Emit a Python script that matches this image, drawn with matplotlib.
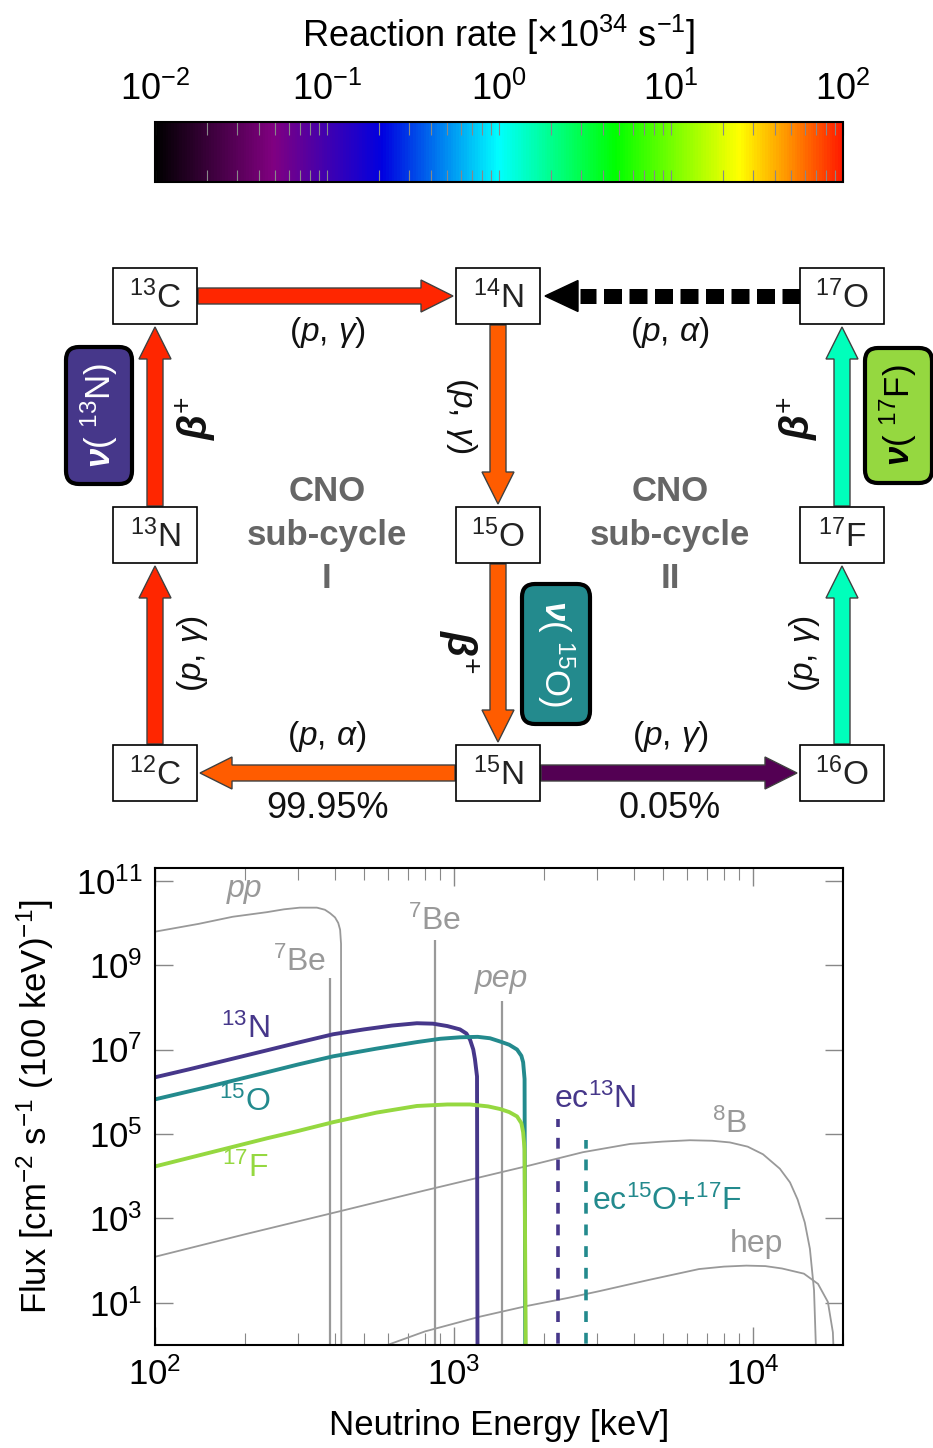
import numpy as np
import matplotlib
matplotlib.use("Agg")
import matplotlib.pyplot as plt
import matplotlib.cm as cm
from matplotlib.colors import LinearSegmentedColormap, LogNorm
from matplotlib.patches import Rectangle, FancyBboxPatch
from matplotlib.ticker import LogLocator, NullLocator, FixedLocator

plt.rcParams['font.family'] = ['Liberation Sans', 'DejaVu Sans']
plt.rcParams['mathtext.fontset'] = 'custom'
plt.rcParams['mathtext.rm'] = 'Liberation Sans'
plt.rcParams['mathtext.it'] = 'Liberation Sans:italic'
plt.rcParams['mathtext.bf'] = 'Liberation Sans:bold'
plt.rcParams['mathtext.bfit'] = 'Liberation Sans:italic:bold'

# ---- data ----------------------------------------------------------
# CNO reactions (from, to) and their rates [x1e34 /s]
edges = [('12C', '13N'), ('13N', '13C'), ('13C', '14N'),
         ('14N', '15O'), ('15O', '15N'), ('15N', '12C'),
         ('15N', '16O'), ('16O', '17F'), ('17F', '17O')]
edge_rates = [90, 90, 90, 65, 65, 65, 0.028, 1.5, 1.5]

# neutrino spectra, energy [keV] and flux [cm^-2 s^-1 (100 keV)^-1]
pp_E = [100, 140, 182, 237, 270, 305, 348, 370, 385, 400, 410, 416, 419, 420]
pp_F = [6.2e9, 9.5e9, 1.4e10, 1.8e10, 2.1e10, 2.3e10, 2.3e10, 2.05e10, 1.7e10,
        1.35e10, 1.0e10, 6.9e9, 3.2e9, 1e-1]
b8_E = [100, 200, 403, 800, 1794, 2700, 3880, 5000, 6150, 7300, 8370, 9600,
        10800, 12300, 13300, 14100, 14900, 15500, 16000, 16400]
b8_F = [123, 420, 1.4e3, 4.6e3, 1.8e4, 3.7e4, 5.8e4, 6.6e4, 7.1e4, 6.9e4, 6.3e4,
        5.0e4, 3.3e4, 1.5e4, 7.1e3, 2.8e3, 800, 190, 20, 1e-1]
hep_E = [500, 800, 1222, 1766, 2400, 3076, 4500, 6600, 8000, 9500, 11000,
         12500, 14800, 16500, 17800, 18500, 18800]
hep_F = [0.63, 2.1, 4.7, 8.5, 13, 19, 35, 63, 72, 76, 74, 65, 49, 28, 10.5, 2.0, 1e-1]
n13_E = [100, 130, 170, 237, 300, 394, 500, 620, 751, 851, 950, 1047, 1100,
         1132, 1160, 1175, 1194, 1199]
n13_F = [2.2e6, 3.4e6, 5.4e6, 9.6e6, 1.45e7, 2.3e7, 3.0e7, 3.7e7, 4.2e7, 4.1e7,
         3.6e7, 3.0e7, 2.4e7, 1.7e7, 1.0e7, 5.9e6, 2.3e6, 1e-1]
o15_E = [100, 150, 237, 300, 394, 550, 751, 900, 1047, 1200, 1320, 1426, 1530,
         1625, 1680, 1703, 1722, 1732]
o15_F = [6.6e5, 1.3e6, 2.9e6, 4.4e6, 6.9e6, 1.05e7, 1.5e7, 1.8e7, 1.95e7, 2.0e7,
         1.85e7, 1.55e7, 1.3e7, 1.0e7, 7.1e6, 5.0e6, 2.0e6, 1e-1]
f17_E = [100, 150, 237, 300, 394, 550, 751, 950, 1130, 1300, 1426, 1530, 1625,
         1680, 1703, 1722, 1740]
f17_F = [1.7e4, 3.5e4, 7.9e4, 1.17e5, 1.9e5, 3.2e5, 4.6e5, 5.0e5, 5.0e5, 4.5e5,
         3.9e5, 3.3e5, 2.6e5, 1.8e5, 1.1e5, 4.4e4, 1e-1]

# mono-energetic lines
line_E = [384, 862, 1442]          # 7Be, 7Be, pep
line_F = [5.0e8, 4.0e9, 1.45e8]
ec_E = [2220, 2754]                # ec 13N, ec 15O+17F
ec_F = [2.3e5, 7.1e4]

# ---- colours ------------------------------------------------------
rate_cmap = LinearSegmentedColormap.from_list('rate', [
    (0.0, '#000000'), (0.17, '#800080'), (0.33, '#0000e0'), (0.5, '#00ffff'),
    (0.67, '#00ff00'), (0.85, '#ffff00'), (1.0, '#ff1a00')])
rate_norm = LogNorm(1e-2, 1e2)
c13N = '#46378a'
c15O = '#238a8d'
c17F = '#95d840'
grey = '#999999'

fig = plt.figure(figsize=(9.33, 14.48), dpi=100)

# ---- diagram (pixel coordinates) ----------------------------------
dax = fig.add_axes([0, 0, 1, 1])
dax.set_xlim(0, 933)
dax.set_ylim(1448, 0)
dax.axis('off')

node_xy = {'13C': (155, 296), '14N': (498, 296), '17O': (842, 296),
           '13N': (155, 535), '15O': (498, 535), '17F': (842, 535),
           '12C': (155, 773), '15N': (498, 773), '16O': (842, 773)}
bw, bh = 84, 56

for name, (x, y) in node_xy.items():
    dax.add_patch(Rectangle((x - bw / 2, y - bh / 2), bw, bh, fc='white', ec='black', lw=1.2, zorder=3))
    dax.text(x, y + 2, r'$^{%s}$%s' % (name[:2], name[2:]), ha='center', va='center',
             fontsize=24, color='#222222', zorder=4)

for (a, b), r in zip(edges, edge_rates):
    xa, ya = node_xy[a]
    xb, yb = node_xy[b]
    if ya == yb:
        s = np.sign(xb - xa)
        x0, y0, dx, dy = xa + s * 43, ya, (xb - xa) - s * 88, 0
    else:
        s = np.sign(yb - ya)
        x0, y0, dx, dy = xa, ya + s * 29, 0, (yb - ya) - s * 60
    dax.arrow(x0, y0, dx, dy, width=16, head_width=32, head_length=32,
              length_includes_head=True, fc=rate_cmap(rate_norm(r)), ec='#404040', lw=1.0, zorder=2)

# 17O -> 14N (p,alpha), dotted black
dax.plot([800, 580], [296, 296], color='black', lw=10.8, dashes=(1.2, 0.5),
         dash_capstyle='butt', zorder=2)
dax.arrow(578, 296, -33, 0, width=0.01, head_width=31, head_length=33,
          length_includes_head=True, fc='black', ec='black', zorder=2)

lab = dict(ha='center', va='center', fontsize=24, color='#111111')
beta = dict(ha='center', va='center', fontsize=29, color='#111111')
dax.text(327, 332, r'$(p,\,\gamma)$', **lab)
dax.text(670, 332, r'$(p,\,\alpha)$', **lab)
dax.text(462, 415, r'$(p,\,\gamma)$', rotation=-90, **lab)
dax.text(196, 418, r'$\mathbfit{\beta}^{+}$', rotation=90, **beta)
dax.text(798, 418, r'$\mathbfit{\beta}^{+}$', rotation=90, **beta)
dax.text(458, 652, r'$\mathbfit{\beta}^{+}$', rotation=-90, **beta)
dax.text(192, 654, r'$(p,\,\gamma)$', rotation=90, **lab)
dax.text(804, 654, r'$(p,\,\gamma)$', rotation=90, **lab)
dax.text(327, 736, r'$(p,\,\alpha)$', **lab)
dax.text(670, 736, r'$(p,\,\gamma)$', **lab)
dax.text(327, 808, '99.95%', ha='center', va='center', fontsize=26, color='#111111')
dax.text(670, 808, '0.05%', ha='center', va='center', fontsize=26, color='#111111')

for cx, num in [(327, 'I'), (670, 'II')]:
    dax.text(cx, 535, 'CNO\nsub-cycle\n' + num, ha='center', va='center', fontsize=25,
             fontweight='bold', color='#666666', linespacing=1.4)

badges = [((66, 347, 66, 137), c13N, 'white', 90, '13N'),
          ((865, 348, 67, 135), c17F, 'black', 90, '17F'),
          ((522, 584, 68, 140), c15O, 'white', -90, '15O')]
for (x0, y0, w, h), fc, tc, rot, iso in badges:
    dax.add_patch(FancyBboxPatch((x0, y0), w, h, boxstyle='round,pad=0,rounding_size=13',
                                 fc=fc, ec='black', lw=3, zorder=3))
    dax.text(x0 + w / 2, y0 + h / 2, r'$\mathbfit{\nu}$( $^{%s}$%s)' % (iso[:2], iso[2:]),
             rotation=rot, ha='center', va='center', fontsize=25, color=tc, zorder=4)

# ---- colour bar ---------------------------------------------------
cax = fig.add_axes([155 / 933, 1 - 182 / 1448, 688 / 933, 60 / 1448])
sm = cm.ScalarMappable(norm=rate_norm, cmap=rate_cmap)
cbar = fig.colorbar(sm, cax=cax, orientation='horizontal')
cbar.minorticks_on()
cax.tick_params(axis='x', which='both', direction='in', top=True, bottom=True,
                labeltop=True, labelbottom=False, color='#888888', length=9, width=0.8,
                labelsize=26, pad=10)
cbar.outline.set_linewidth(1.5)
fig.text(499 / 933, 1 - 35 / 1448, r'Reaction rate [$\times$10$^{34}$ s$^{-1}$]',
         ha='center', va='center', fontsize=26)

# ---- flux spectra ---------------------------------------------------
ax = fig.add_axes([155 / 933, 1 - 1345 / 1448, 688 / 933, 477 / 1448])
ax.set_xscale('log')
ax.set_yscale('log')

ax.plot(pp_E, pp_F, color=grey, lw=1.3)
ax.plot(b8_E, b8_F, color=grey, lw=1.3)
ax.plot(hep_E, hep_F, color=grey, lw=1.3)
ax.vlines(line_E, 0.1, line_F, colors=grey, lw=1.6)
ax.plot(n13_E, n13_F, color=c13N, lw=2.8)
ax.plot(o15_E, o15_F, color=c15O, lw=2.8)
ax.plot(f17_E, f17_F, color=c17F, lw=2.8)
ax.vlines(ec_E, 0.1, ec_F, colors=[c13N, c15O], lw=2.6, linestyles=(0, (3, 3)))

ax.set_xlim(100, 2e4)
ax.set_ylim(1, 2e11)

t = dict(ha='center', va='center', fontsize=23)
ax.text(200, 6.2e10, 'pp', style='italic', color=grey, **t)
ax.text(305, 1.15e9, r'$^{7}$Be', color=grey, **t)
ax.text(863, 1.1e10, r'$^{7}$Be', color=grey, **t)
ax.text(1445, 4.6e8, 'pep', style='italic', color=grey, **t)
ax.text(200, 3.0e7, r'$^{13}$N', color=c13N, **t)
ax.text(200, 5.6e5, r'$^{15}$O', color=c15O, **t)
ax.text(200, 1.5e4, r'$^{17}$F', color=c17F, **t)
ax.text(2960, 6.6e5, r'ec$^{13}$N', color=c13N, **t)
ax.text(5150, 2.5e3, r'ec$^{15}$O$+^{17}$F', color=c15O, **t)
ax.text(8380, 1.7e5, r'$^{8}$B', color=grey, **t)
ax.text(10240, 245, 'hep', color=grey, **t)

ax.yaxis.set_major_locator(FixedLocator([1e1, 1e3, 1e5, 1e7, 1e9, 1e11]))
ax.yaxis.set_minor_locator(NullLocator())
ax.xaxis.set_major_locator(LogLocator(base=10))
ax.xaxis.set_minor_locator(LogLocator(base=10, subs=np.arange(2, 10)))
ax.tick_params(which='both', direction='in', top=True, right=True, color='#888888', labelsize=25)
ax.tick_params(which='major', length=13, width=1.0, pad=9)
ax.tick_params(which='minor', length=8.5, width=0.8)
for sp in ax.spines.values():
    sp.set_linewidth(1.5)
ax.set_xlabel('Neutrino Energy [keV]', fontsize=25, labelpad=12)
ax.set_ylabel(r'Flux [cm$^{-2}$ s$^{-1}$ (100 keV)$^{-1}$]', fontsize=25, labelpad=14)

fig.savefig('out.png', dpi=100)
